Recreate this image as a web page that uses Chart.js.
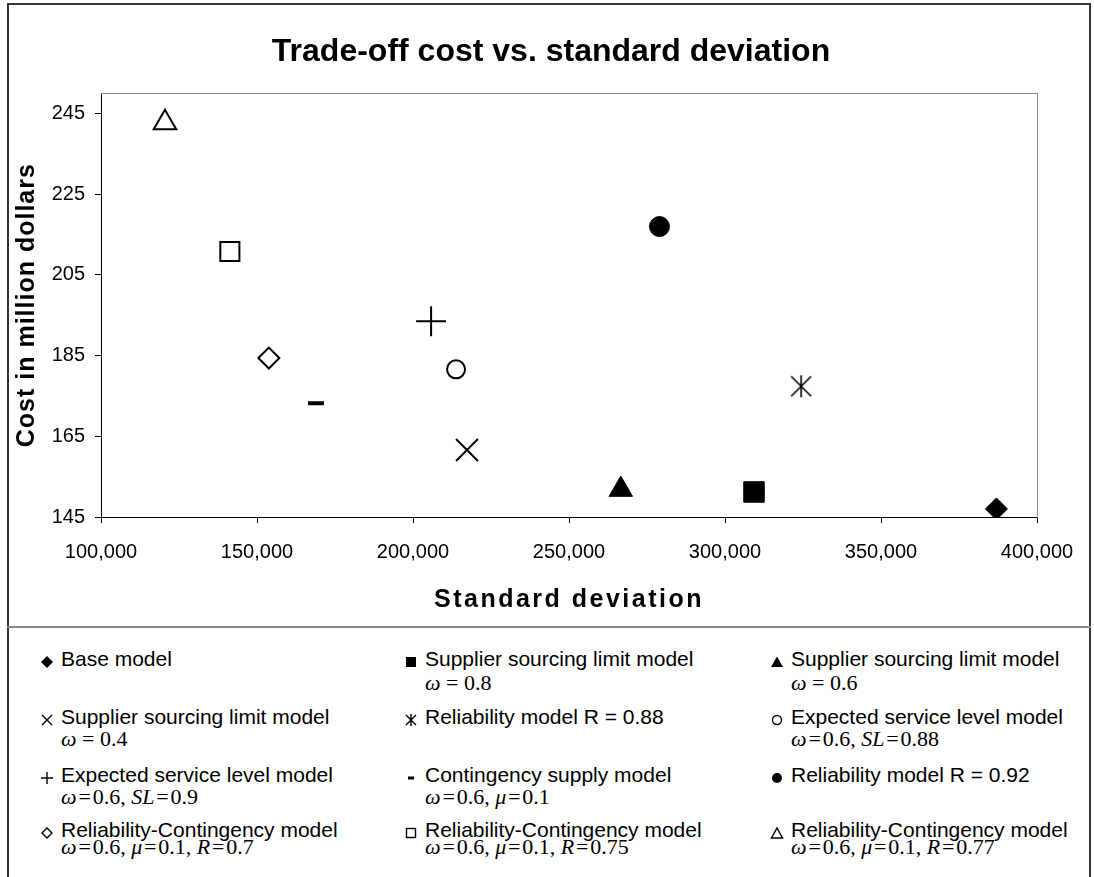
<!DOCTYPE html>
<html>
<head>
<meta charset="utf-8">
<script src="https://cdn.jsdelivr.net/npm/chart.js@4.4.1/dist/chart.umd.min.js"></script>
<style>
  html, body { margin: 0; padding: 0; background: #fff; }
  #page { position: relative; width: 1094px; height: 877px; overflow: hidden; }
  #frame { position: absolute; left: 7px; top: 3px; width: 1084px; height: 900px;
           border: 2px solid #333; box-sizing: border-box; }
  #sep { position: absolute; left: 7px; top: 626px; width: 1084px; height: 0;
         border-top: 2px solid #888; }
  #chartBox { position: absolute; left: 0; top: 0; width: 1094px; height: 626px; }
  .leg { position: absolute; font-family: 'Liberation Sans', Arial, sans-serif;
         font-size: 21px; color: #000; white-space: nowrap; line-height: 1; }
  .math { position: absolute; font-family: 'Liberation Serif', 'Times New Roman', serif;
          font-size: 22px; color: #000; white-space: nowrap; line-height: 1; }
  .math i { font-style: italic; }
</style>
</head>
<body>
<div id="page">
  <div id="frame"></div>
  <div id="sep"></div>
  <div id="chartBox"><canvas id="chart" width="1094" height="626"></canvas></div>
  <div id="legend"></div>
</div>
<script>
const chartTitle = "Trade-off cost vs. standard deviation";
const xTitle = "Standard deviation";
const yTitle = "Cost in million dollars";

const xTicks = [100000, 150000, 200000, 250000, 300000, 350000, 400000];
const yTicks = [145, 165, 185, 205, 225, 245];

const seriesNames = [
  "Base model",
  "Supplier sourcing limit model",
  "Supplier sourcing limit model",
  "Supplier sourcing limit model",
  "Reliability model R = 0.88",
  "Expected service level model",
  "Expected service level model",
  "Contingency supply model",
  "Reliability model R = 0.92",
  "Reliability-Contingency model",
  "Reliability-Contingency model",
  "Reliability-Contingency model"
];
const seriesParams = [
  "",
  "<i>ω</i> = 0.8",
  "<i>ω</i> = 0.6",
  "<i>ω</i> = 0.4",
  "",
  "<i>ω</i>&#8202;=&#8202;0.6, <i>SL</i>&#8202;=&#8202;0.88",
  "<i>ω</i>&#8202;=&#8202;0.6, <i>SL</i>&#8202;=&#8202;0.9",
  "<i>ω</i>&#8202;=&#8202;0.6, <i>μ</i>&#8202;=&#8202;0.1",
  "",
  "<i>ω</i>&#8202;=&#8202;0.6, <i>μ</i>&#8202;=&#8202;0.1, <i>R</i>&#8202;=&#8202;0.7",
  "<i>ω</i>&#8202;=&#8202;0.6, <i>μ</i>&#8202;=&#8202;0.1, <i>R</i>&#8202;=&#8202;0.75",
  "<i>ω</i>&#8202;=&#8202;0.6, <i>μ</i>&#8202;=&#8202;0.1, <i>R</i>&#8202;=&#8202;0.77"
];
// standard deviation and cost (million dollars), one point per model
const stdDev = [387000, 309300, 266600, 217300, 324400, 213800, 205800, 168900, 279000, 153800, 141300, 120500];
const cost = [147.0, 151.2, 151.8, 161.6, 177.4, 181.6, 193.5, 173.2, 217.0, 184.4, 210.8, 242.7];
const markers = ["diamondFilled", "squareFilled", "triangleFilled", "x", "asterisk", "circleOpen",
                 "plus", "dash", "circleFilled", "diamondOpen", "squareOpen", "triangleOpen"];

// little canvas for the asterisk marker (X with a vertical bar)
function asteriskImage() {
  const c = document.createElement('canvas');
  c.width = 24; c.height = 24;
  const g = c.getContext('2d');
  g.strokeStyle = '#000';
  g.lineWidth = 1.6;
  g.beginPath();
  g.moveTo(2, 2); g.lineTo(22, 22);
  g.moveTo(22, 2); g.lineTo(2, 22);
  g.moveTo(12, 1); g.lineTo(12, 23);
  g.stroke();
  return c;
}

function markerStyle(m) {
  switch (m) {
    case "diamondFilled": return { pointStyle: 'rectRot', radius: 11, bg: '#000', bw: 1 };
    case "squareFilled": return { pointStyle: 'rect', radius: 14.5, bg: '#000', bw: 1 };
    case "triangleFilled": return { pointStyle: 'triangle', radius: 13.5, bg: '#000', bw: 1 };
    case "x": return { pointStyle: 'crossRot', radius: 15.5, bg: '#000', bw: 2 };
    case "asterisk": return { pointStyle: asteriskImage(), radius: 12, bg: '#000', bw: 1 };
    case "circleOpen": return { pointStyle: 'circle', radius: 9, bg: '#fff', bw: 2 };
    case "plus": return { pointStyle: 'cross', radius: 15, bg: '#000', bw: 2 };
    case "dash": return { pointStyle: 'line', radius: 8, bg: '#000', bw: 4 };
    case "circleFilled": return { pointStyle: 'circle', radius: 10, bg: '#000', bw: 1 };
    case "diamondOpen": return { pointStyle: 'rectRot', radius: 10.5, bg: '#fff', bw: 2 };
    case "squareOpen": return { pointStyle: 'rect', radius: 13.5, bg: '#fff', bw: 2 };
    case "triangleOpen": return { pointStyle: 'triangle', radius: 13, bg: '#fff', bw: 2 };
  }
}

const datasets = seriesNames.map((name, i) => {
  const s = markerStyle(markers[i]);
  return {
    label: name,
    data: [{ x: stdDev[i], y: cost[i] }],
    pointStyle: s.pointStyle,
    pointRadius: s.radius,
    pointHoverRadius: s.radius,
    pointBackgroundColor: s.bg,
    pointBorderColor: '#000',
    pointBorderWidth: s.bw,
    showLine: false
  };
});

Chart.defaults.font.family = "'Liberation Sans', Arial, sans-serif";
Chart.defaults.color = '#000';

const fmt = v => v.toLocaleString('en-US');

// axis titles in the original are set a little wider
function spacedTitle(scale, spacing) {
  if (scale._spaced) return;
  scale._spaced = true;
  const orig = scale.drawTitle;
  scale.drawTitle = function () {
    this.ctx.save();
    this.ctx.letterSpacing = spacing;
    orig.apply(this, arguments);
    this.ctx.restore();
  };
}

new Chart(document.getElementById('chart'), {
  type: 'scatter',
  data: { datasets },
  options: {
    responsive: false,
    animation: false,
    layout: { padding: { left: 8, right: 0, top: 0, bottom: 0 } },
    plugins: {
      legend: { display: false },
      tooltip: { enabled: false },
      title: {
        display: true,
        text: chartTitle,
        font: { size: 32, weight: 'bold' },
        padding: { top: 33, bottom: 22 }
      }
    },
    scales: {
      x: {
        type: 'linear',
        position: 'bottom',
        min: xTicks[0],
        max: xTicks[xTicks.length - 1],
        afterBuildTicks: s => { s.ticks = xTicks.map(v => ({ value: v })); },
        ticks: { font: { size: 20 }, padding: 17, maxRotation: 0, callback: v => fmt(v) },
        grid: { drawOnChartArea: false, tickLength: 6, tickColor: '#000' },
        border: { color: '#000', width: 1 },
        title: { display: true, text: xTitle, font: { size: 25, weight: 'bold' }, padding: { top: 0, bottom: 11 } },
        afterFit: s => { s.height = 109; spacedTitle(s, '2.5px'); }
      },
      y: {
        type: 'linear',
        position: 'left',
        min: 145,
        max: 250,
        afterBuildTicks: s => { s.ticks = yTicks.map(v => ({ value: v })); },
        ticks: { font: { size: 20 }, padding: 10 },
        grid: { drawOnChartArea: false, tickLength: 6, tickColor: '#000' },
        border: { color: '#000', width: 1 },
        title: { display: true, text: yTitle, font: { size: 25, weight: 'bold' }, padding: { top: 4, bottom: 0 } },
        afterFit: s => { s.width = 93; spacedTitle(s, '1px'); }
      },
      xTop: {
        type: 'linear',
        position: 'top',
        min: xTicks[0],
        max: xTicks[xTicks.length - 1],
        ticks: { display: false },
        grid: { display: false, drawTicks: false },
        border: { color: '#888', width: 1 },
        afterFit: s => { s.height = 0; }
      },
      yRight: {
        type: 'linear',
        position: 'right',
        min: 145,
        max: 250,
        ticks: { display: false },
        grid: { display: false, drawTicks: false },
        border: { color: '#888', width: 1 },
        afterFit: s => { s.width = 57; }
      }
    }
  }
});

// legend icons
function icon(m) {
  const st = 'stroke="#000" stroke-width="1.4"';
  const shapes = {
    diamondFilled: '<polygon points="7,1 13,7 7,13 1,7" fill="#000"/>',
    squareFilled: '<rect x="2" y="2" width="10" height="10" fill="#000"/>',
    triangleFilled: '<polygon points="7,1.5 13,12 1,12" fill="#000"/>',
    x: `<path d="M2,2 L12,12 M12,2 L2,12" ${st} fill="none"/>`,
    asterisk: `<path d="M2,2 L12,12 M12,2 L2,12 M7,1 L7,13" ${st} fill="none"/>`,
    circleOpen: `<circle cx="7" cy="7" r="4.5" ${st} fill="none"/>`,
    plus: `<path d="M1,7 L13,7 M7,1 L7,13" ${st} fill="none"/>`,
    dash: '<rect x="4" y="5.5" width="6" height="3" fill="#000"/>',
    circleFilled: '<circle cx="7" cy="7" r="5" fill="#000"/>',
    diamondOpen: `<polygon points="7,2 12,7 7,12 2,7" ${st} fill="none"/>`,
    squareOpen: `<rect x="2.5" y="2.5" width="9" height="9" ${st} fill="none"/>`,
    triangleOpen: `<polygon points="7,2 12.5,12 1.5,12" ${st} fill="none"/>`
  };
  return `<svg width="14" height="14" viewBox="0 0 14 14">${shapes[m]}</svg>`;
}

const colLeft = [40, 404, 770];
const rowMid = [658, 716, 774, 829];
const mathGap = [25, 23, 23, 18];
const legend = document.getElementById('legend');
seriesNames.forEach((name, i) => {
  const col = i % 3, row = Math.floor(i / 3);
  const x = colLeft[col], y = rowMid[row];
  const d = document.createElement('div');
  d.className = 'leg';
  d.style.left = x + 'px';
  d.style.top = (y - 10) + 'px';
  d.innerHTML = `<span style="position:absolute;left:0;top:3px;">${icon(markers[i])}</span><span style="position:absolute;left:21px;top:0;">${name}</span>`;
  legend.appendChild(d);
  if (seriesParams[i]) {
    const m = document.createElement('div');
    m.className = 'math';
    m.style.left = (x + 21) + 'px';
    m.style.top = (y + mathGap[row] - 11) + 'px';
    m.innerHTML = seriesParams[i];
    legend.appendChild(m);
  }
});
</script>
</body>
</html>
